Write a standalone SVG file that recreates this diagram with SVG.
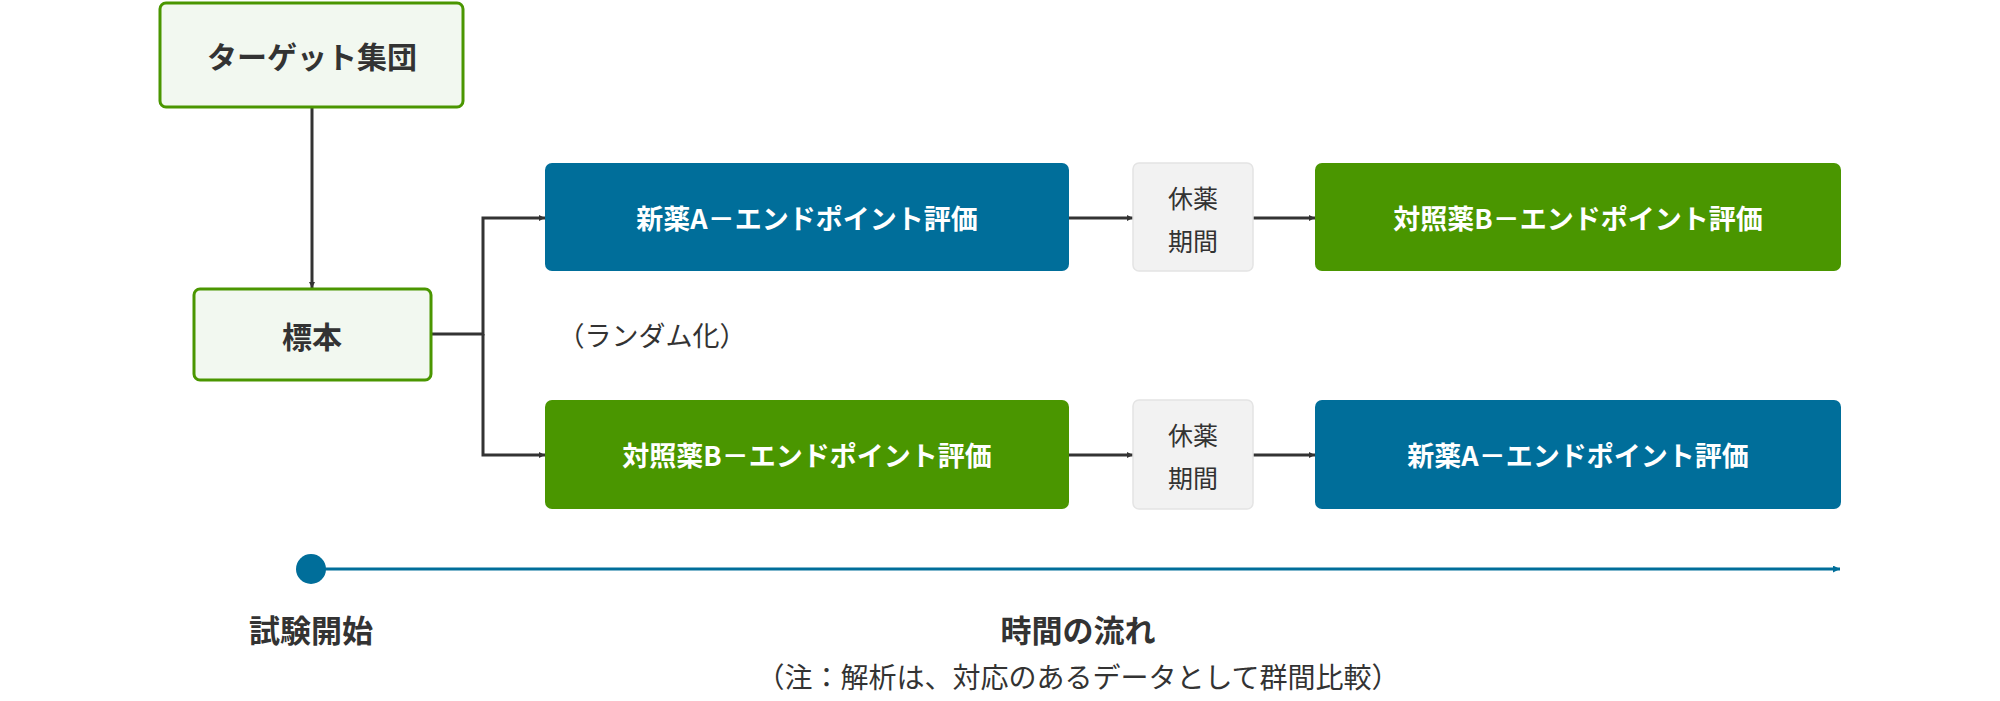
<svg xmlns="http://www.w3.org/2000/svg" width="2000" height="701" viewBox="0 0 2000 701">
<defs>
<style>
text{font-family:"Noto Sans CJK JP","Noto Sans",sans-serif;text-anchor:middle;dominant-baseline:central}
.lg{fill:#F2F8F0;stroke:#4A9600;stroke-width:3}
.bl{fill:#006E9A}.gr{fill:#4A9600}
.gy{fill:#F2F2F2;stroke:#E4E4E4;stroke-width:1.5}
.w{fill:#fff;font-size:27px;font-weight:bold}
.d{fill:#333;font-weight:bold}
.c{fill:none;stroke:#333;stroke-width:3}
</style>
<marker id="a" viewBox="0 0 10 10" refX="10" refY="5" markerWidth="6" markerHeight="6" orient="auto" markerUnits="userSpaceOnUse"><path d="M0,0L10,5L0,10z" fill="#333"/></marker>
<marker id="b" viewBox="0 0 10 10" refX="10" refY="5" markerWidth="7" markerHeight="7" orient="auto" markerUnits="userSpaceOnUse"><path d="M0,0L10,5L0,10z" fill="#006E9A"/></marker>
</defs>
<g id="connectors">
<path class="c" d="M312,108V288" marker-end="url(#a)" style="marker-end:url(#a)"/>
<path class="c" d="M431,334H483V218H545" marker-end="url(#a)"/>
<path class="c" d="M483,334V455H545" marker-end="url(#a)"/>
<path class="c" d="M1069,218H1133" marker-end="url(#a)"/>
<path class="c" d="M1253,218H1315" marker-end="url(#a)"/>
<path class="c" d="M1069,455H1133" marker-end="url(#a)"/>
<path class="c" d="M1253,455H1315" marker-end="url(#a)"/>
</g>
<g id="target"><rect class="lg" x="160" y="3" width="303" height="104" rx="6"/><text class="d" x="312" y="55" font-size="30">ターゲット集団</text></g>
<g id="sample"><rect class="lg" x="194" y="289" width="237" height="91" rx="6"/><text class="d" x="312" y="335" font-size="30">標本</text></g>
<g id="a1"><rect class="bl" x="545" y="163" width="524" height="108" rx="7"/><text class="w" x="807" y="217">新薬A－エンドポイント評価</text></g>
<g id="r1"><rect class="gy" x="1133" y="163" width="120" height="108" rx="6"/><text x="1193" y="197" font-size="25" fill="#333">休薬</text><text x="1193" y="240" font-size="25" fill="#333">期間</text></g>
<g id="b1"><rect class="gr" x="1315" y="163" width="526" height="108" rx="7"/><text class="w" x="1578" y="217">対照薬B－エンドポイント評価</text></g>
<g id="b2"><rect class="gr" x="545" y="400" width="524" height="109" rx="7"/><text class="w" x="807" y="454">対照薬B－エンドポイント評価</text></g>
<g id="r2"><rect class="gy" x="1133" y="400" width="120" height="109" rx="6"/><text x="1193" y="434" font-size="25" fill="#333">休薬</text><text x="1193" y="477" font-size="25" fill="#333">期間</text></g>
<g id="a2"><rect class="bl" x="1315" y="400" width="526" height="109" rx="7"/><text class="w" x="1578" y="454">新薬A－エンドポイント評価</text></g>
<text x="652" y="334" font-size="27" fill="#333">（ランダム化）</text>
<g id="timeline">
<path d="M311,569H1840" stroke="#006E9A" stroke-width="3" marker-end="url(#b)"/>
<circle cx="311" cy="569" r="15" fill="#006E9A"/>
</g>
<text class="d" x="311" y="628" font-size="31">試験開始</text>
<text class="d" x="1078" y="628" font-size="31">時間の流れ</text>
<text x="1078" y="676" font-size="28" fill="#333">（注：解析は、対応のあるデータとして群間比較）</text>
</svg>
